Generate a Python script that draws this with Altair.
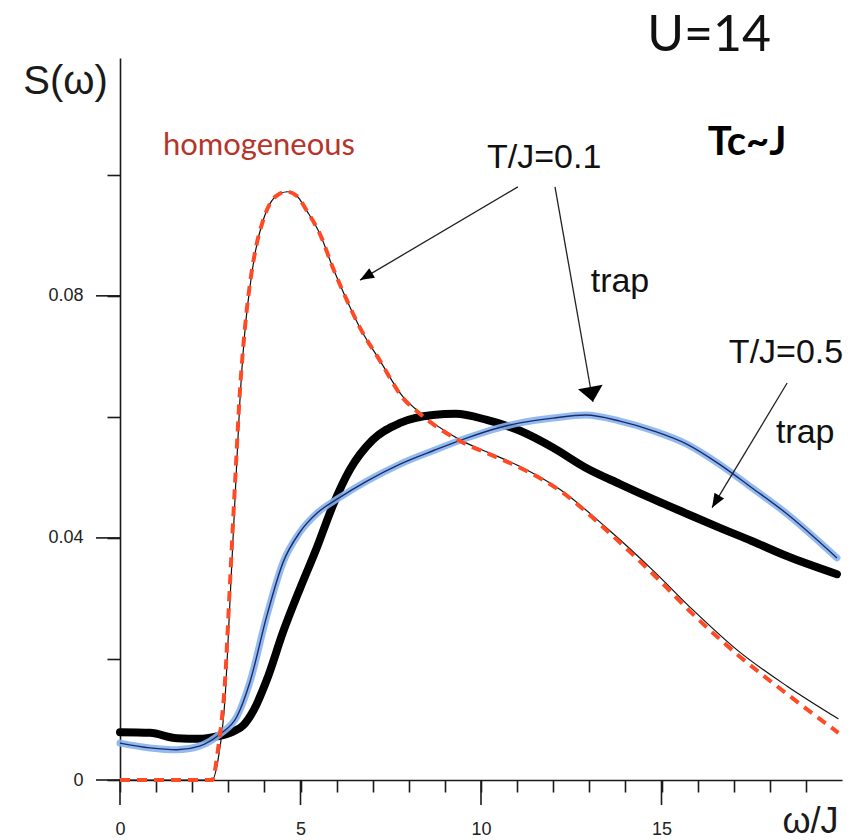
import math
import altair as alt
import pandas as pd

# ---------------- data ----------------
hom_x = [0, 1, 2, 2.55, 2.72, 2.91, 3.05, 3.19, 3.32, 3.45, 3.6, 3.75, 3.96, 4.15, 4.4, 4.63,
         4.9, 5.18, 5.54, 5.9, 6.29, 6.65, 7.2, 7.84, 8.31, 9.42, 10.33, 11.08, 12.19, 13.49,
         14.77, 15.87, 17.09, 18.48, 19.9]
hom_y = [0, 0, 0, 0, 0.0053, 0.0164, 0.0329, 0.0494, 0.064, 0.074, 0.082, 0.0875, 0.0924, 0.0952,
         0.0968, 0.0972, 0.0965, 0.094, 0.0902, 0.0846, 0.0792, 0.0747, 0.0693, 0.0631, 0.0605,
         0.056, 0.0536, 0.0516, 0.0478, 0.0412, 0.034, 0.0274, 0.0208, 0.0142, 0.0078]
# thin black companion curve under the dashed red one
hom_ref_y = [0, 0, 0, 0, 0.0035, 0.0135, 0.0300, 0.0470, 0.0625, 0.0735, 0.0815, 0.0873, 0.0924,
             0.0952, 0.0968, 0.0972, 0.0965, 0.094, 0.0902, 0.0846, 0.0792, 0.0747, 0.0693, 0.0633,
             0.0607, 0.0562, 0.0538, 0.0518, 0.048, 0.0416, 0.0346, 0.0281, 0.0215, 0.0155, 0.0101]

t01_x = [0, 0.83, 1.58, 2.2, 2.68, 3.13, 3.41, 3.7, 4.07, 4.52, 4.99, 5.46, 5.9, 6.37, 7.0,
         7.76, 8.67, 9.3, 10.16, 11.08, 12.0, 12.9, 13.85, 14.77, 15.7, 16.6, 17.5, 18.47, 19.86]
t01_y = [0.0079, 0.0078, 0.0069, 0.0068, 0.0072, 0.0080, 0.0090, 0.0115, 0.0166, 0.0245,
         0.0317, 0.0385, 0.0454, 0.0513, 0.0562, 0.0590, 0.0603, 0.0605, 0.0595, 0.0577, 0.0549,
         0.0516, 0.0489, 0.0464, 0.044, 0.0417, 0.0395, 0.037, 0.034]

t05_x = [0, 0.83, 1.58, 2.2, 2.77, 3.24, 3.6, 4.07, 4.52, 4.99, 5.46, 6.09, 6.84, 7.76, 8.67,
         9.6, 10.5, 11.08, 12.0, 12.9, 13.85, 14.77, 15.7, 16.6, 17.5, 18.47, 19.86]
t05_y = [0.0061, 0.0053, 0.005, 0.0056, 0.0076, 0.0105, 0.0162, 0.0272, 0.0360, 0.0410,
         0.0441, 0.0467, 0.0494, 0.0522, 0.0544, 0.0565, 0.0582, 0.059, 0.0598, 0.0603, 0.0593,
         0.0577, 0.0555, 0.0522, 0.0483, 0.044, 0.0367]

x_ticks = list(range(0, 20))
x_major = [0, 5, 10, 15]
y_ticks = [0, 0.02, 0.04, 0.06, 0.08, 0.10]
y_major = [0, 0.04, 0.08]

# annotations (data coordinates)
arrow_x = [11.02, 12.05, 18.48]
arrow_y = [0.0980, 0.0980, 0.0656]
arrow_x2 = [6.65, 13.10, 16.40]
arrow_y2 = [0.0826, 0.0625, 0.0450]
arrow_head = ["small", "big", "small"]

labels_text = ["T/J=0.1", "trap", "T/J=0.5", "trap"]
labels_x = [11.75, 13.85, 18.45, 18.98]
labels_y = [0.1012, 0.0807, 0.0689, 0.0557]

# ---------------- layout ----------------
W, H = 722, 722
XDOM = [0, 20]
YDOM = [0, 0.1193]
px_x = W / (XDOM[1] - XDOM[0])
px_y = H / (YDOM[1] - YDOM[0])

FONT = "Liberation Sans"
INK = "#1a1a1a"

xscale = alt.Scale(domain=XDOM, nice=False, zero=False)
yscale = alt.Scale(domain=YDOM, nice=False, zero=False)

x_axis = alt.Axis(
    values=x_ticks, tickSize=12,
    labelExpr="datum.value % 5 === 0 ? datum.label : ''",
    grid=False, domainColor=INK, domainWidth=1.6, tickColor=INK, tickWidth=1.6,
    labelFont=FONT, labelFontSize=18, labelColor="#222", labelPadding=28,
    labelOverlap=False, labelFlush=False,
    title="ω/J", titleFont=FONT, titleFontSize=36, titleFontWeight="normal", titleColor=INK,
    titleAngle=0, titleAlign="center", titleBaseline="alphabetic", titleX=690, titleY=52,
)
y_axis = alt.Axis(
    values=y_ticks, tickSize=13,
    labelExpr="datum.value === 0 ? '0' : (round(datum.value * 100) % 4 === 0 ? format(datum.value, '.2f') : '')",
    grid=False, domainColor=INK, domainWidth=1.6, tickColor=INK, tickWidth=1.6,
    labelFont=FONT, labelFontSize=18, labelColor="#222", labelPadding=24,
    title="S(ω)", titleFont=FONT, titleFontSize=40, titleFontWeight="normal", titleColor=INK,
    titleAngle=0, titleAlign="center", titleBaseline="alphabetic", titleX=-55, titleY=35,
)


def X(f="x"):
    return alt.X(f"{f}:Q", scale=xscale, axis=x_axis)


def Y(f="y"):
    return alt.Y(f"{f}:Q", scale=yscale, axis=y_axis)


def enc(xf="x", yf="y"):
    return dict(x=X(xf), y=Y(yf))


hom_df = pd.DataFrame({"x": hom_x, "y": hom_y})
hom_ref_df = pd.DataFrame({"x": hom_x, "y": hom_ref_y})
t01_df = pd.DataFrame({"x": t01_x, "y": t01_y})
t05_df = pd.DataFrame({"x": t05_x, "y": t05_y})

# longer major ticks
xmaj = alt.Chart(pd.DataFrame({"x": x_major})).mark_rule(color=INK, strokeWidth=1.6).encode(
    x=X(), y=alt.value(H), y2=alt.value(H + 25))
ymaj = alt.Chart(pd.DataFrame({"y": y_major})).mark_rule(color=INK, strokeWidth=1.6).encode(
    y=Y(), x=alt.value(0), x2=alt.value(-24))

ref_line = alt.Chart(hom_ref_df).mark_line(
    color="#111", strokeWidth=1.2, interpolate="monotone"
).encode(**enc())

black_line = alt.Chart(t01_df).mark_line(
    color="#000", strokeWidth=8, strokeCap="round", interpolate="monotone"
).encode(**enc())

blue_band = alt.Chart(t05_df).mark_line(
    color="#86b3f0", strokeWidth=7, opacity=0.9, strokeCap="round", interpolate="monotone"
).encode(**enc())
blue_core = alt.Chart(t05_df).mark_line(
    color="#1c2b66", strokeWidth=1.4, interpolate="monotone"
).encode(**enc())

red_line = alt.Chart(hom_df).mark_line(
    color="#ff4a25", strokeWidth=4, strokeDash=[10, 7], interpolate="monotone"
).encode(**enc())

# arrows
heads = {"small": ("M0,0L-0.4,-1L0.4,-1Z", 784), "big": ("M0,0L-0.5,-0.6L0.5,-0.6Z", 2500)}
arr_rows = []
for x0, y0, x1, y1, h in zip(arrow_x, arrow_y, arrow_x2, arrow_y2, arrow_head):
    dx = (x1 - x0) * px_x
    dy = -(y1 - y0) * px_y
    ang = math.degrees(math.atan2(-dx, dy)) % 360
    arr_rows.append({"x": x0, "y": y0, "x2": x1, "y2": y1,
                     "angle": ang, "shape": heads[h][0], "size": heads[h][1]})
arr_df = pd.DataFrame(arr_rows)

arrow_lines = alt.Chart(arr_df).mark_rule(color="#222", strokeWidth=1.3).encode(
    **enc(), x2="x2:Q", y2="y2:Q",
)
arrow_heads = alt.Chart(arr_df).mark_point(filled=True, color="#000", opacity=1).encode(
    **enc("x2", "y2"),
    shape=alt.Shape("shape:N", scale=None),
    angle=alt.Angle("angle:Q", scale=None),
    size=alt.Size("size:Q", scale=None),
)

lab_df = pd.DataFrame({"x": labels_x, "y": labels_y, "t": labels_text})
labels = alt.Chart(lab_df).mark_text(
    font=FONT, fontSize=34, color="#111", align="center", baseline="alphabetic"
).encode(**enc(), text="t:N")


def one_text(txt, x, y, **kw):
    df = pd.DataFrame({"x": [x], "y": [y], "t": [txt]})
    return alt.Chart(df).mark_text(align="center", baseline="alphabetic", **kw).encode(
        **enc(), text="t:N")


u_text = one_text("U=14", 16.32, 0.1205, font="Lato", fontSize=50, color="#111")
tc_text = one_text("Tc~J", 17.37, 0.1033, font="Lato", fontSize=40, fontWeight="bold", color="#000")
hom_text = one_text("homogeneous", 3.85, 0.1033, font="Lato", fontSize=31, color="#b5352a")

chart = alt.layer(
    xmaj, ymaj, ref_line, black_line, blue_band, blue_core, red_line,
    arrow_lines, arrow_heads, labels, u_text, tc_text, hom_text,
).properties(
    width=W, height=H,
    autosize=alt.AutoSizeParams(type="none"),
    padding={"left": 120, "top": 58, "right": 12, "bottom": 60},
    background="white",
).configure_view(strokeWidth=0)

chart.save("out.html", embed_options={"renderer": "svg", "actions": False})
